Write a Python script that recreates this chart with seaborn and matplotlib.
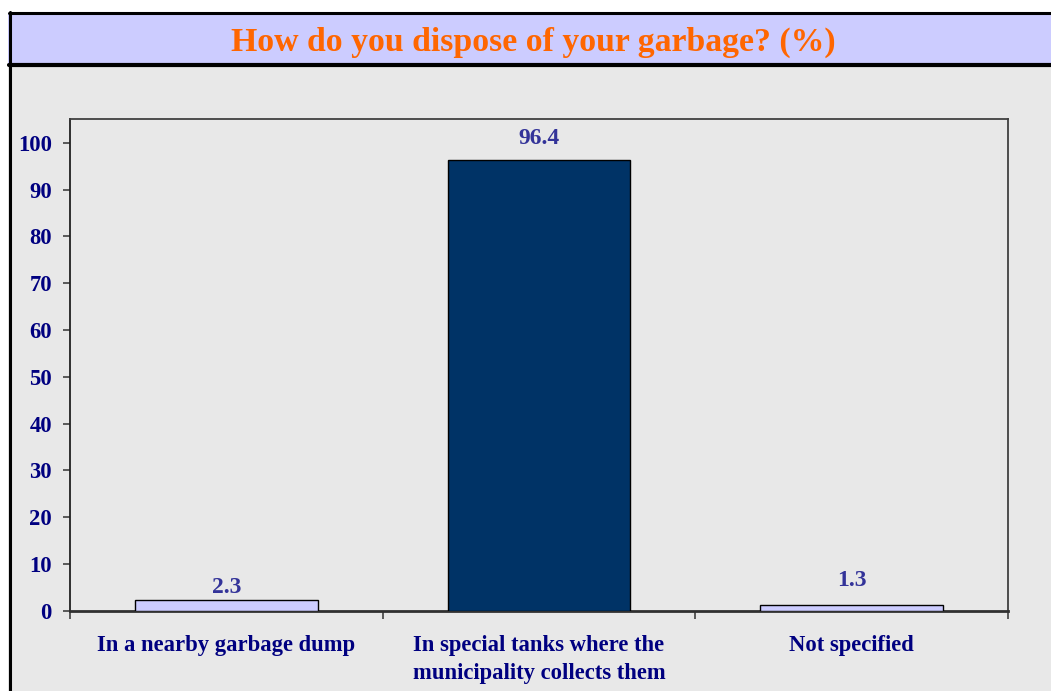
import matplotlib
matplotlib.use("Agg")
import matplotlib.pyplot as plt
import seaborn as sns
from matplotlib.patches import Rectangle
from matplotlib.lines import Line2D

categories = ["In a nearby garbage dump",
              "In special tanks where the\nmunicipality collects them",
              "Not specified"]
values = [2.3, 96.4, 1.3]
value_labels = ["2.3", "96.4", "1.3"]
yticks = [0, 10, 20, 30, 40, 50, 60, 70, 80, 90, 100]
title = "How do you dispose of your garbage? (%)"

bar_colors = ["#CCCCFF", "#003366", "#CCCCFF"]
label_pad = [1.5, 7.5, 9.5]

sns.set_theme(style="white")
plt.rcParams["font.family"] = ["Liberation Serif", "DejaVu Serif"]
plt.rcParams["font.weight"] = "bold"

BG = "#E8E8E8"
fig = plt.figure(figsize=(10.51, 6.91), dpi=100)
fig.patch.set_facecolor("white")

# gray body panel and lavender title band
fig.add_artist(Rectangle((8/1051, 0), 1 - 8/1051, (691-65)/691,
                         transform=fig.transFigure, facecolor=BG, edgecolor="none", zorder=0))
fig.add_artist(Rectangle((8/1051, (691-65)/691), 1 - 8/1051, (65-13)/691,
                         transform=fig.transFigure, facecolor="#CCCCFF", edgecolor="none", zorder=0))
# black frame lines
fig.add_artist(Line2D([9.5/1051, 9.5/1051], [0, (691-12)/691], transform=fig.transFigure,
                      color="black", lw=2.2, zorder=1))
fig.add_artist(Line2D([8.5/1051, 1], [(691-13)/691]*2, transform=fig.transFigure,
                      color="black", lw=2.2, zorder=1))
fig.add_artist(Line2D([8.5/1051, 1], [(691-65)/691]*2, transform=fig.transFigure,
                      color="black", lw=3, zorder=1))

fig.text(533/1051, (691-51)/691, title, ha="center", va="baseline",
         fontsize=24.3, fontweight="bold", color="#FF6600")

ax = fig.add_axes([70/1051, (691-610.7)/691, (1008-70)/1051, (610.7-119.3)/691])
ax.set_facecolor(BG)

sns.barplot(x=categories, y=values, hue=categories, palette=bar_colors, legend=False,
            width=0.585, edgecolor="black", linewidth=1.0, saturation=1, ax=ax, zorder=3)

ax.set_xlim(-0.5, 2.5)
ax.set_ylim(0, 105)
ax.set_yticks(yticks)
ax.set_yticklabels([str(t) for t in yticks])
ax.set_xlabel("")
ax.set_ylabel("")

for s in ["top", "right"]:
    ax.spines[s].set_color("#404040")
    ax.spines[s].set_linewidth(1.3)
ax.spines["left"].set_color("#202020")
ax.spines["left"].set_linewidth(1.3)
ax.spines["bottom"].set_color("#303030")
ax.spines["bottom"].set_linewidth(2.0)

FS = 16.3
ax.tick_params(axis="y", direction="out", length=5, width=1.2, color="#404040",
               pad=8, labelsize=FS, labelcolor="#000080", left=True)
ax.set_xticks([-0.5, 0.5, 1.5, 2.5], minor=True)
ax.tick_params(axis="x", which="minor", direction="out", length=6, width=1.2, color="#404040", bottom=True)
ax.tick_params(axis="x", which="major", length=0, pad=17.5, labelsize=FS, labelcolor="#000080")
for lab in ax.get_xticklabels() + ax.get_yticklabels():
    lab.set_fontweight("bold")
    lab.set_linespacing(1.42)

for p, txt, pad in zip(ax.patches, value_labels, label_pad):
    ax.annotate(txt, (p.get_x() + p.get_width() / 2, p.get_height()),
                xytext=(0, pad), textcoords="offset points", ha="center", va="bottom",
                fontsize=17, fontweight="bold", color="#333399")

fig.savefig("out.png", dpi=100, facecolor=fig.get_facecolor())
